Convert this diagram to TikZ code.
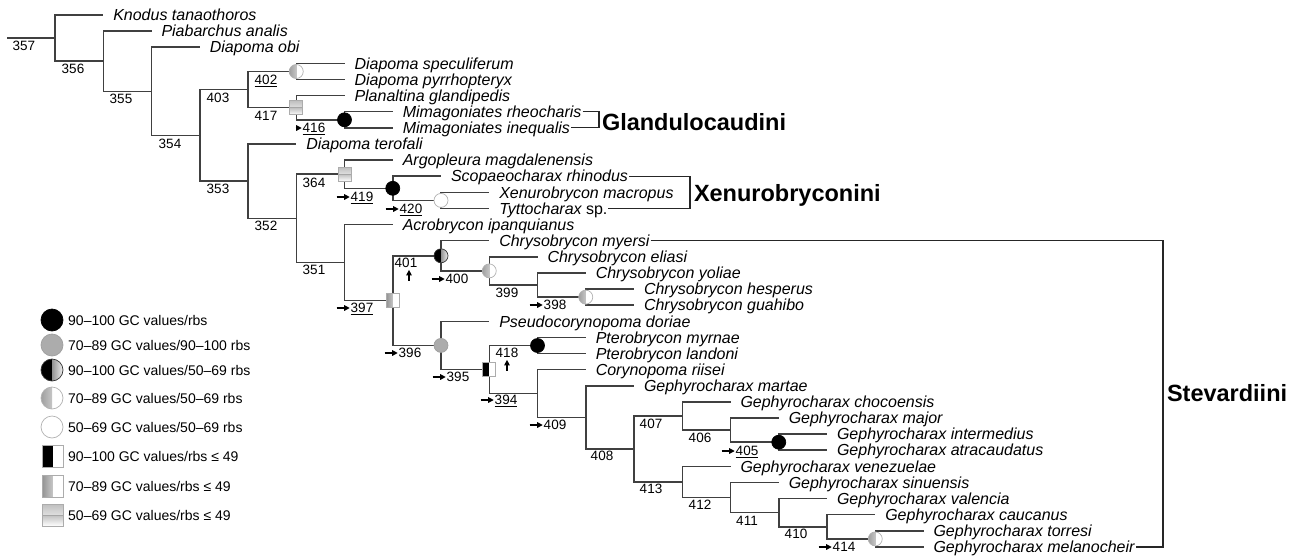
\documentclass[tikz,border=0pt]{standalone}
\usepackage{fontspec}
\setmainfont{Liberation Sans}
\usetikzlibrary{arrows.meta}
\begin{document}
\begin{tikzpicture}[x=1pt,y=-1pt,
  br/.style={draw=black!75, line width=1.5pt},
  bk/.style={draw=black!85, line width=1.3pt},
  taxon/.style={anchor=west, inner sep=0pt, outer sep=0pt, text height=11.5pt, text depth=0pt, font=\fontsize{16}{18}\selectfont\itshape},
  num/.style={inner sep=0pt, outer sep=1pt, text height=9.7pt, text depth=0pt, font=\fontsize{13.5}{15}\selectfont},
  grp/.style={anchor=west, inner sep=0pt, outer sep=0pt, text height=17pt, text depth=0pt, font=\fontsize{23.5}{26}\selectfont\bfseries},
  leg/.style={anchor=west, inner sep=0pt, text height=10pt, text depth=0pt, font=\fontsize{14}{16}\selectfont},
  sarr/.style={draw=black, line width=1.2pt, -{Triangle[length=5.5pt,width=5.5pt]}},
  symc/.style={circle, draw=gray!60, fill=white, minimum size=14pt, inner sep=0pt, line width=0.7pt},
  blackc/.style={symc, draw=black, fill=black},
  grayc/.style={symc, draw=gray!75, fill=gray!65},
  whitec/.style={symc},
  gwc/.style={symc, path picture={\shade[left color=gray!75, right color=gray!15] (path picture bounding box.south west) rectangle (path picture bounding box.north);}},
  bgc/.style={symc, draw=black!80, path picture={\fill[black] (path picture bounding box.south west) rectangle (path picture bounding box.north); \shade[left color=gray!85, right color=gray!10] (path picture bounding box.south) rectangle (path picture bounding box.north east);}},
  syms/.style={rectangle, draw=gray!65, fill=white, minimum width=13pt, minimum height=14pt, inner sep=0pt, line width=0.7pt},
  bws/.style={syms, path picture={\fill[black] (path picture bounding box.south west) rectangle (path picture bounding box.north);}},
  gws/.style={syms, path picture={\shade[left color=gray!85, right color=gray!5] (path picture bounding box.south west) rectangle (path picture bounding box.north);}},
  strs/.style={syms, path picture={\shade[top color=gray!50, bottom color=white] (path picture bounding box.west) rectangle (path picture bounding box.north east); \shade[top color=gray!50, bottom color=white] (path picture bounding box.south west) rectangle (path picture bounding box.east); \draw[gray!70, line width=0.8pt] (path picture bounding box.west) -- (path picture bounding box.east);}}
]
\useasboundingbox (0,0) rectangle (1301,557);

% ---------- internal nodes ----------
\coordinate (root) at (7,38.1);
\coordinate (n357) at (55,38.1);
\coordinate (n356) at (103.25,61.2);
\coordinate (n355) at (151.5,91.3);
\coordinate (n354) at (199.75,135.4);
\coordinate (n403) at (248,89.6);
\coordinate (n402) at (296.25,71.5);
\coordinate (n417) at (296.25,107.7);
\coordinate (n416) at (344.5,119.8);
\coordinate (n353) at (248,181.2);
\coordinate (n352) at (296.25,218.4);
\coordinate (n364) at (344.5,174.2);
\coordinate (n419) at (392.75,188.3);
\coordinate (n420) at (441,200.4);
\coordinate (n351) at (344.5,262.6);
\coordinate (n397) at (392.75,300.6);
\coordinate (n401) at (441,255.8);
\coordinate (n400) at (489.25,270.9);
\coordinate (n399) at (537.5,285.0);
\coordinate (n398) at (585.75,297.1);
\coordinate (n396) at (441,345.4);
\coordinate (n395) at (489.25,369.5);
\coordinate (n418) at (537.5,345.5);
\coordinate (n394) at (537.5,393.5);
\coordinate (n409) at (585.75,417.4);
\coordinate (n408) at (634,449.0);
\coordinate (n407) at (682.25,416.0);
\coordinate (n406) at (730.5,430.1);
\coordinate (n405) at (778.75,442.2);
\coordinate (n413) at (682.25,482.0);
\coordinate (n412) at (730.5,497.6);
\coordinate (n411) at (778.75,512.7);
\coordinate (n410) at (827,526.8);
\coordinate (n414) at (875.25,538.9);

% ---------- taxa ----------
\node[taxon] (knodus) at (113.25,15.0) {Knodus tanaothoros};
\node[taxon] (piab) at (161.5,31.1) {Piabarchus analis};
\node[taxon] (dobi) at (209.75,47.2) {Diapoma obi};
\node[taxon] (dspec) at (354.5,63.4) {Diapoma speculiferum};
\node[taxon] (dpyr) at (354.5,79.5) {Diapoma pyrrhopteryx};
\node[taxon] (plan) at (354.5,95.6) {Planaltina glandipedis};
\node[taxon] (mrheo) at (402.75,111.7) {Mimagoniates rheocharis};
\node[taxon] (mineq) at (402.75,127.8) {Mimagoniates inequalis};
\node[taxon] (dtero) at (306.25,144.0) {Diapoma terofali};
\node[taxon] (argo) at (402.75,160.1) {Argopleura magdalenensis};
\node[taxon] (scopa) at (451,176.2) {Scopaeocharax rhinodus};
\node[taxon] (xenu) at (499.25,192.3) {Xenurobrycon macropus};
\node[taxon] (tytto) at (499.25,208.4) {Tyttocharax {\upshape sp.}};
\node[taxon] (acro) at (402.75,224.6) {Acrobrycon ipanquianus};
\node[taxon] (cmyer) at (499.25,240.7) {Chrysobrycon myersi};
\node[taxon] (celia) at (547.5,256.8) {Chrysobrycon eliasi};
\node[taxon] (cyoli) at (595.75,272.9) {Chrysobrycon yoliae};
\node[taxon] (chesp) at (644,289.0) {Chrysobrycon hesperus};
\node[taxon] (cguah) at (644,305.2) {Chrysobrycon guahibo};
\node[taxon] (pseudo) at (499.25,321.3) {Pseudocorynopoma doriae};
\node[taxon] (pmyr) at (595.75,337.4) {Pterobrycon myrnae};
\node[taxon] (plando) at (595.75,353.5) {Pterobrycon landoni};
\node[taxon] (coryn) at (595.75,369.6) {Corynopoma riisei};
\node[taxon] (gmart) at (644,385.8) {Gephyrocharax martae};
\node[taxon] (gchoc) at (740.5,401.9) {Gephyrocharax chocoensis};
\node[taxon] (gmaj) at (788.75,418.0) {Gephyrocharax major};
\node[taxon] (ginter) at (837,434.1) {Gephyrocharax intermedius};
\node[taxon] (gatra) at (837,450.2) {Gephyrocharax atracaudatus};
\node[taxon] (gvene) at (740.5,466.4) {Gephyrocharax venezuelae};
\node[taxon] (gsinu) at (788.75,482.5) {Gephyrocharax sinuensis};
\node[taxon] (gvale) at (837,498.6) {Gephyrocharax valencia};
\node[taxon] (gcauc) at (885.25,514.7) {Gephyrocharax caucanus};
\node[taxon] (gtorr) at (933.5,530.8) {Gephyrocharax torresi};
\node[taxon] (gmela) at (933.5,547.0) {Gephyrocharax melanocheir};

% ---------- branches ----------
\draw[br] (root) -- (n357);
\foreach \a/\b in {n357/n356, n356/n355, n355/n354, n354/n403, n354/n353, n403/n402, n403/n417,
  n417/n416, n353/n352, n352/n364, n352/n351, n364/n419, n419/n420, n351/n397, n397/n401,
  n397/n396, n401/n400, n400/n399, n399/n398, n396/n395, n395/n418, n395/n394, n394/n409,
  n409/n408, n408/n407, n408/n413, n407/n406, n406/n405, n413/n412, n412/n411, n411/n410, n410/n414}
  \draw[br] (\a) |- (\b);
\foreach \a/\b in {n357/knodus, n356/piab, n355/dobi, n402/dspec, n402/dpyr, n417/plan, n416/mrheo,
  n416/mineq, n353/dtero, n364/argo, n419/scopa, n420/xenu, n420/tytto, n351/acro, n401/cmyer,
  n400/celia, n399/cyoli, n398/chesp, n398/cguah, n396/pseudo, n418/pmyr, n418/plando, n394/coryn,
  n409/gmart, n407/gchoc, n406/gmaj, n405/ginter, n405/gatra, n413/gvene, n412/gsinu, n411/gvale,
  n410/gcauc, n414/gtorr, n414/gmela}
  \draw[br] (\a) |- ([xshift=-10pt]\b.west);

% ---------- support symbols ----------
\node[gwc] (s402) at (n402) {};
\node[strs] (s417) at (n417) {};
\node[blackc] (s416) at (n416) {};
\node[strs] (s364) at (n364) {};
\node[blackc] (s419) at (n419) {};
\node[whitec] (s420) at (n420) {};
\node[gws] (s397) at (n397) {};
\node[bgc] (s401) at (n401) {};
\node[gwc] (s400) at (n400) {};
\node[gwc] (s398) at (n398) {};
\node[grayc] (s396) at (n396) {};
\node[bws] (s395) at (n395) {};
\node[blackc] (s418) at (n418) {};
\node[blackc] (s405) at (n405) {};
\node[gwc] (s414) at (n414) {};

% ---------- node numbers ----------
\node[num] (l357) at (24,46) {357};
\node[num] (l356) at (73,69) {356};
\node[num] (l355) at (121,99) {355};
\node[num] (l354) at (170,144) {354};
\node[num] (l403) at (218,98) {403};
\node[num] (l353) at (218,189) {353};
\node[num] (l402) at (266,80) {\underline{402}};
\node[num] (l417) at (266,116) {417};
\node[num] (l416) at (314,128) {\underline{416}};
\node[num] (l352) at (266,226) {352};
\node[num] (l364) at (314,183) {364};
\node[num] (l419) at (362,197) {\underline{419}};
\node[num] (l420) at (411,209) {\underline{420}};
\node[num] (l351) at (314,270) {351};
\node[num] (l397) at (362,308) {\underline{397}};
\node[num] (l401) at (406,263) {401};
\node[num] (l400) at (457,279) {400};
\node[num] (l399) at (507,293) {399};
\node[num] (l398) at (555,305) {398};
\node[num] (l396) at (410,353) {396};
\node[num] (l395) at (458,377) {395};
\node[num] (l418) at (507,353) {418};
\node[num] (l394) at (506,400) {\underline{394}};
\node[num] (l409) at (555,425) {409};
\node[num] (l408) at (602,456) {408};
\node[num] (l407) at (651,424) {407};
\node[num] (l406) at (700,438) {406};
\node[num] (l405) at (747,451) {\underline{405}};
\node[num] (l413) at (651,489) {413};
\node[num] (l412) at (700,505) {412};
\node[num] (l411) at (747,521) {411};
\node[num] (l410) at (796,534) {410};
\node[num] (l414) at (844,547) {414};

\draw[sarr] ([xshift=-6pt]l416.west) -- (l416.west);
\foreach \l in {l419, l420, l397, l400, l398, l396, l395, l394, l409, l405, l414}
  \draw[sarr] ([xshift=-13pt]\l.west) -- (\l.west);
\draw[sarr] ([xshift=3pt,yshift=-12pt]l401.south) -- ([xshift=3pt,yshift=-1pt]l401.south);
\draw[sarr] ([yshift=-12pt]l418.south) -- ([yshift=-1pt]l418.south);

% ---------- group brackets ----------
\coordinate (gb) at (599,0);
\coordinate (xb) at (690,0);
\coordinate (sb) at (1163,0);
\draw[bk] ([xshift=1pt]mrheo.east) -| (gb |- mineq.east) -- ([xshift=1pt]mineq.east);
\draw[bk] ([xshift=1pt]scopa.east) -| (xb |- tytto.east) -- ([xshift=1pt]tytto.east);
\draw[bk] ([xshift=1pt]cmyer.east) -| (sb |- gmela.east) -- ([xshift=1pt]gmela.east);
\node[grp] (glan) at (602,122) {Glandulocaudini};
\node[grp] (xeno) at (694,193) {Xenurobryconini};
\node[grp] (stev) at (1167,393) {Stevardiini};

% ---------- legend ----------
\node[blackc, minimum size=22pt] (lc1) at (52,320) {};
\node[grayc, minimum size=22pt] (lc2) at (52,345) {};
\node[bgc, minimum size=22pt] (lc3) at (52,370) {};
\node[gwc, minimum size=22pt] (lc4) at (52,398) {};
\node[whitec, minimum size=22pt] (lc5) at (52,427) {};
\node[bws, minimum width=21pt, minimum height=22pt] (lc6) at (52.5,456) {};
\node[gws, minimum width=21pt, minimum height=22pt] (lc7) at (52.5,486) {};
\node[strs, minimum width=21pt, minimum height=22pt] (lc8) at (52.5,515) {};
\node[leg] (lt1) at (68,320) {90–100 GC values/rbs};
\node[leg] (lt2) at (68,345) {70–89 GC values/90–100 rbs};
\node[leg] (lt3) at (68,370) {90–100 GC values/50–69 rbs};
\node[leg] (lt4) at (68,398) {70–89 GC values/50–69 rbs};
\node[leg] (lt5) at (68,427) {50–69 GC values/50–69 rbs};
\node[leg] (lt6) at (68,456) {90–100 GC values/rbs ≤ 49};
\node[leg] (lt7) at (68,486) {70–89 GC values/rbs ≤ 49};
\node[leg] (lt8) at (68,515) {50–69 GC values/rbs ≤ 49};
\end{tikzpicture}
\end{document}
